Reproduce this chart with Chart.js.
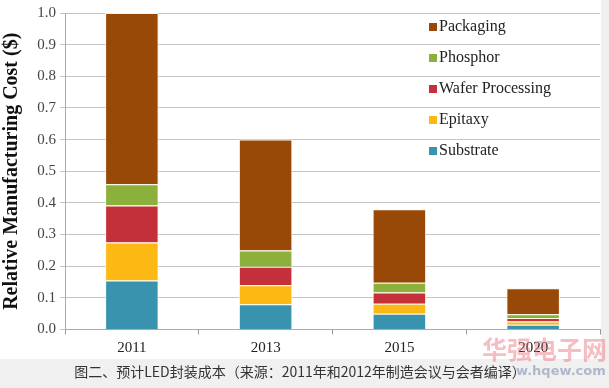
<!DOCTYPE html>
<html><head><meta charset="utf-8">
<script src="https://cdn.jsdelivr.net/npm/chart.js@4.4.0/dist/chart.umd.min.js"></script>
<style>
html,body{margin:0;padding:0;background:#f0f0f0;width:609px;height:388px;overflow:hidden;}
#wrap{position:absolute;left:0;top:0;width:601px;height:359px;background:#fff;}
#cap{position:absolute;left:0;top:361px;width:600px;text-align:center;font-family:"Noto Sans CJK SC";font-size:14px;color:#333;}
#wm1{position:absolute;left:482px;top:330px;font-family:"Noto Sans CJK SC";font-size:25px;font-weight:bold;color:rgba(235,110,120,0.45);}
#wm2{position:absolute;left:516px;top:363px;font-family:"DejaVu Sans";font-size:13px;font-weight:bold;color:rgba(110,130,165,0.5);}
</style></head>
<body>
<div id="wrap"><canvas id="c" width="601" height="359"></canvas></div>
<div id="wm1">华强电子网</div>
<div id="cap">图二、预计LED封装成本（来源：2011年和2012年制造会议与会者编译）</div>
<div id="wm2">w.hqew.com</div>
<script>
const categories = ["2011", "2013", "2015", "2020"];
const substrate  = [0.155, 0.080, 0.050, 0.015];
const epitaxy    = [0.120, 0.060, 0.031, 0.010];
const wafer      = [0.117, 0.058, 0.036, 0.011];
const phosphor   = [0.067, 0.052, 0.031, 0.012];
const packaging  = [0.541, 0.350, 0.232, 0.082];
const seriesNames = ["Substrate", "Epitaxy", "Wafer Processing", "Phosphor", "Packaging"];
const seriesColors = ["#3a93ae", "#fdb913", "#c4303a", "#8cb03c", "#984807"];
const yTicks = [0,0.1,0.2,0.3,0.4,0.5,0.6,0.7,0.8,0.9,1.0];

const serif = "'Liberation Serif', 'DejaVu Serif', serif";
const seriesData = [substrate, epitaxy, wafer, phosphor, packaging];

const legendPlugin = {
  id: 'inLegend',
  afterDraw(chart) {
    const ctx = chart.ctx;
    ctx.save();
    ctx.font = "16px " + serif;
    ctx.textBaseline = 'middle';
    const n = chart.data.datasets.length;
    for (let i = 0; i < n; i++) {
      const ds = chart.data.datasets[n - 1 - i];
      const y = 27 + i * 31;
      ctx.fillStyle = ds.backgroundColor;
      ctx.fillRect(429, y - 4, 8, 8);
      ctx.fillStyle = '#222';
      ctx.fillText(ds.label, 439, y);
    }
    ctx.restore();
  }
};

new Chart(document.getElementById('c'), {
  type: 'bar',
  data: {
    labels: categories,
    datasets: seriesNames.map((n, i) => ({
      label: n,
      data: seriesData[i],
      backgroundColor: seriesColors[i],
      borderColor: 'rgba(255,250,225,0.9)',
      borderWidth: 1,
      barPercentage: 0.4,
      categoryPercentage: 1.0
    }))
  },
  options: {
    responsive: false,
    animation: false,
    layout: { padding: { top: 10, right: 1, left: 0, bottom: 0 } },
    plugins: { legend: { display: false }, tooltip: { enabled: false } },
    scales: {
      x: {
        stacked: true,
        afterFit(s) { s.height = 29.5; },
        grid: { display: true, drawOnChartArea: false, drawTicks: true, tickLength: 5, color: '#999', offset: true },
        border: { color: '#aaa' },
        ticks: { font: { family: serif, size: 15 }, color: '#222', padding: 5 }
      },
      y: {
        stacked: true,
        min: 0, max: 1,
        afterFit(s) { s.width = 65; },
        afterBuildTicks(s) { s.ticks = yTicks.map(v => ({ value: v })); },
        grid: { color: '#c4c4c4', tickLength: 5, lineWidth: 1 },
        border: { color: '#aaa' },
        ticks: { font: { family: serif, size: 15 }, color: '#444', padding: 4,
                 callback: v => Number(v).toFixed(1) },
        title: { display: true, text: 'Relative Manufacturing Cost ($)',
                 font: { family: serif, size: 20, weight: 'bold' }, color: '#111', padding: { top: 0, bottom: 0 } }
      }
    }
  },
  plugins: [legendPlugin]
});
</script>
</body></html>
